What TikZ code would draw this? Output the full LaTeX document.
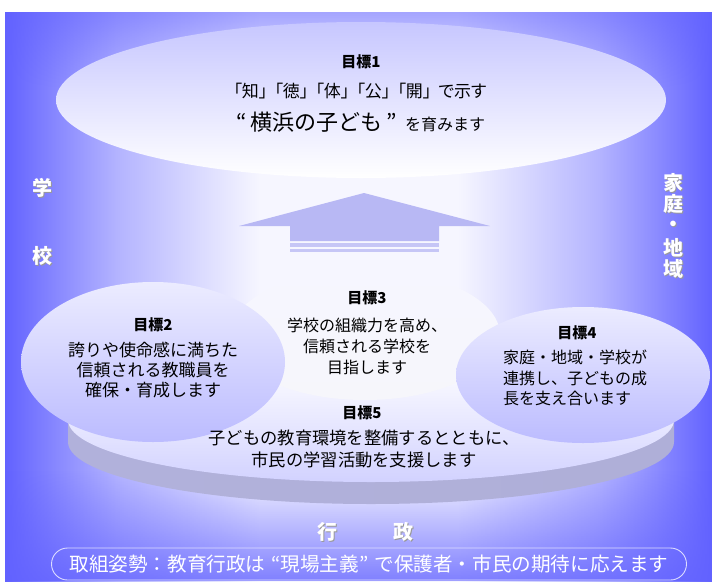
\documentclass[tikz,border=0pt]{standalone}
\usepackage{fontspec}
\setmainfont{Noto Sans CJK JP}
\usetikzlibrary{fadings}
\definecolor{bgA}{HTML}{6262FF}
\definecolor{bgB}{HTML}{8C8CFF}
\definecolor{bgC}{HTML}{B4B4FF}
\definecolor{bgD}{HTML}{DCDCFF}
\definecolor{bgE}{HTML}{F6F6FF}
\definecolor{arrowc}{HTML}{B8B8F4}
\definecolor{stripec}{HTML}{C6C6F6}
\definecolor{pillline}{HTML}{DCDCFF}
\pgfdeclarehorizontalshading{bgh}{100bp}{color(0bp)=(bgA); color(25bp)=(bgA); color(29bp)=(bgB); color(33bp)=(bgC); color(39bp)=(bgD); color(43bp)=(bgE); color(57bp)=(bgE); color(61bp)=(bgD); color(67bp)=(bgC); color(71bp)=(bgB); color(75bp)=(bgA); color(100bp)=(bgA)}
\tikzfading[name=fadeup, top color=transparent!100, bottom color=transparent!0]
\tikzfading[name=fadedown, top color=transparent!0, bottom color=transparent!100]
\tikzset{
  goaltitle/.style={font=\fontsize{15}{18}\selectfont\bfseries, inner sep=0pt},
  goaltxt/.style={font=\fontsize{17}{20}\selectfont, align=center, inner sep=0pt},
  wlabel/.style={text=white, font=\fontsize{20}{22}\selectfont\bfseries, inner sep=0pt},
  slabel/.style={text=black!40, font=\fontsize{20}{22}\selectfont\bfseries, inner sep=0pt},
}
\begin{document}
\begin{tikzpicture}[x=1pt,y=-1pt]
\useasboundingbox (0,0) rectangle (712,581);
\fill[white] (0,0) rectangle (712,581);
% background
\shade[shading=bgh] (5,12) rectangle (712,581);
\fill[bgA, fill opacity=0.55, path fading=fadedown] (5,12) rectangle (712,90);
\fill[bgA, fill opacity=0.8, path fading=fadeup] (5,470) rectangle (712,581);
% goal 1 ellipse
\shade[top color=bgC!75!white, bottom color=white] (361,100) ellipse [x radius=305pt, y radius=78pt];
% arrow
\fill[arrowc] (364,193) -- (490,226) -- (439,226) -- (439,241) -- (290,241) -- (290,226) -- (239,226) -- cycle;
\fill[stripec] (290,243) rectangle (439,247);
\fill[stripec] (290,249) rectangle (439,252);
% disc (goal 5)
\shade[left color=black!20!bgC!70!white, middle color=black!30!bgC!80!white, right color=black!22!bgC!70!white]
  (68,420) -- (68,442) arc[start angle=180, end angle=360, x radius=303pt, y radius=62pt] -- (674,420) -- cycle;
\shade[top color=white, middle color=bgE, bottom color=bgC!60!white] (371,420) ellipse [x radius=303pt, y radius=62pt];
% goal 3
\shade[top color=bgE, bottom color=bgC!80!black!8] (365,335) ellipse [x radius=135pt, y radius=65pt];
% goal 2
\shade[top color=bgE!60!bgD, bottom color=bgC!90!white] (153,362) ellipse [x radius=132pt, y radius=80pt];
% goal 4
\shade[top color=bgE!60!bgD, bottom color=bgC!90!white] (583,375) ellipse [x radius=127pt, y radius=68pt];
% texts goal 1
\node[goaltitle] (g1t) at (361,62) {目標1};
\node[font=\fontsize{17}{18}\selectfont\addfontfeature{RawFeature=+palt}, inner sep=0pt] (g1a) at (360,91) {「知」\hspace{7pt}「徳」\hspace{7pt}「体」\hspace{7pt}「公」\hspace{7pt}「開」\hspace{7pt}で示す};
\node[inner sep=0pt] (g1b) at (361,122) {{\fontsize{22}{24}\selectfont “\,横浜の子ども\,”}\hspace{8pt}{\fontsize{16}{18}\selectfont を育みます}};
% goal 2
\node[goaltitle] (g2t) at (153,325) {目標2};
\node[goaltxt] (g2b) at (153,370) {誇りや使命感に満ちた\\信頼される教職員を\\確保・育成します};
% goal 3
\node[goaltitle] (g3t) at (367,298) {目標3};
\node[goaltxt, font=\fontsize{16}{21}\selectfont] (g3b) at (367,346) {学校の組織力を高め、\\信頼される学校を\\目指します};
% goal 4
\node[goaltitle] (g4t) at (577,333) {目標4};
\node[goaltxt, align=left, anchor=west, font=\fontsize{16}{20.5}\selectfont] (g4b) at (503,378) {家庭・地域・学校が\\連携し、子どもの成\\長を支え合います};
% goal 5
\node[goaltitle] (g5t) at (362,413) {目標5};
\node[goaltxt, font=\fontsize{17.3}{22}\selectfont] (g5b) at (364,449) {子どもの教育環境を整備するとともに、\\市民の学習活動を支援します};
% side labels
\foreach \n/\c/\x/\y in {a/学/42/188, b/校/42/256, c/家/673/183, d/庭/673/204, e/・/673/226, f/地/673/248, g/域/673/269, h/行/327/532, i/政/403/532}{
  \node[slabel] (s\n) at (\x+1.2,\y+1.2) {\c};
  \node[wlabel] (l\n) at (\x,\y) {\c};
}
% pill
\node[draw=pillline, line width=0.9pt, rounded corners=16pt, minimum width=635pt, minimum height=32pt, inner sep=0pt,
  text=white, font=\fontsize{19.6}{20}\selectfont] (pill) at (369,564) {取組姿勢：教育行政は\hspace{6pt}“現場主義”\hspace{6pt}で保護者・市民の期待に応えます};
\end{tikzpicture}
\end{document}
